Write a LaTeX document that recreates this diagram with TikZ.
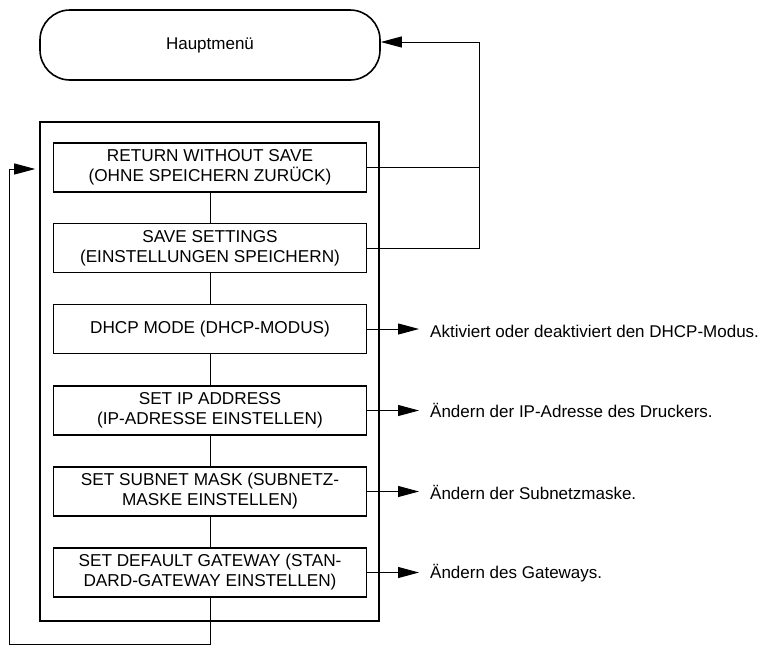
\documentclass[tikz,border=0pt]{standalone}
\usepackage{fontspec}
\setmainfont{Liberation Sans}
\usetikzlibrary{arrows.meta,positioning}
\begin{document}
\begin{tikzpicture}[x=1pt,y=-1pt,
  menubox/.style={draw,line width=1.8pt,minimum width=313pt,minimum height=49pt,align=center,inner sep=2pt,font=\fontsize{17.2}{20}\selectfont},
  frame/.style={draw,line width=1.6pt,minimum width=339pt,minimum height=499pt},
  topbox/.style={draw,line width=1.6pt,rounded corners=30pt,minimum width=340pt,minimum height=70pt,font=\fontsize{17}{20}\selectfont},
  desc/.style={anchor=west,inner sep=0pt,font=\fontsize{17}{20}\selectfont},
  conn/.style={line width=1pt},
  arr/.style={conn,-{Triangle[length=21pt,width=11pt]}}]
\useasboundingbox (0,0) rectangle (767,648);
\node[topbox] (haupt) at (210,45) {Hauptmenü};
\node[frame] (frame) at (209.5,371.5) {};
\node[menubox] (b1) at (210,167.5) {RETURN WITHOUT SAVE\\(OHNE SPEICHERN ZURÜCK)};
\node[menubox] (b2) at (210,248) {SAVE SETTINGS\\(EINSTELLUNGEN SPEICHERN)};
\node[menubox] (b3) at (210,329) {DHCP MODE (DHCP-MODUS)};
\node[menubox] (b4) at (210,410.5) {SET IP ADDRESS\\(IP-ADRESSE EINSTELLEN)};
\node[menubox] (b5) at (210,491.5) {SET SUBNET MASK (SUBNETZ-\\MASKE EINSTELLEN)};
\node[menubox] (b6) at (210,572.5) {SET DEFAULT GATEWAY (STAN-\\DARD-GATEWAY EINSTELLEN)};
\node[desc] (t3) at (430,331) {Aktiviert oder deaktiviert den DHCP-Modus.};
\node[desc] (t4) at (430,410) {Ändern der IP-Adresse des Druckers.};
\node[desc] (t5) at (430,492) {Ändern der Subnetzmaske.};
\node[desc] (t6) at (430,573) {Ändern des Gateways.};
\coordinate (bl) at (9,644);
\coordinate (bt) at (9,169);
\coordinate (rv) at (479,42);
\draw[conn] (b1) -- (b2);
\draw[conn] (b2) -- (b3);
\draw[conn] (b3) -- (b4);
\draw[conn] (b4) -- (b5);
\draw[conn] (b5) -- (b6);
\draw[arr,shorten >=4pt] (b6.south) -- (b6.south |- bl) -- (bl) -- (bt) -- (frame.west |- bt);
\draw[conn] (b1.east) -- (b1.east -| rv);
\draw[arr] (b2.east) -- (b2.east -| rv) -- (rv) -- (haupt.east |- rv);
\draw[arr,shorten >=11pt] (b3.east) -- (t3.west |- b3.east);
\draw[arr,shorten >=11pt] (b4.east) -- (t4.west |- b4.east);
\draw[arr,shorten >=11pt] (b5.east) -- (t5.west |- b5.east);
\draw[arr,shorten >=11pt] (b6.east) -- (t6.west |- b6.east);
\end{tikzpicture}
\end{document}
